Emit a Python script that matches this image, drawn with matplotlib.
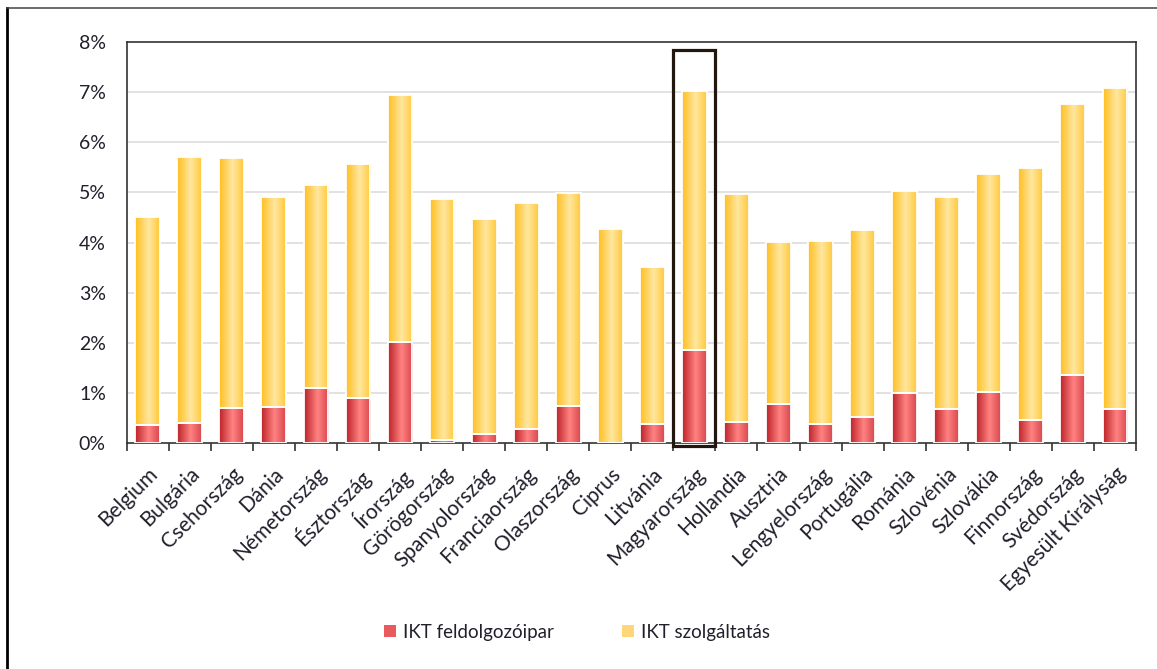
import numpy as np
import matplotlib
matplotlib.use("Agg")
import matplotlib.pyplot as plt
from matplotlib.colors import LinearSegmentedColormap
from matplotlib.patches import Rectangle
from matplotlib.lines import Line2D

plt.rcParams["font.family"] = ["Lato", "DejaVu Sans"]

# Országok és az IKT-szektor részesedése (%)
countries = [
    "Belgium", "Bulgária", "Csehország", "Dánia", "Németország", "Észtország",
    "Írország", "Görögország", "Spanyolország", "Franciaország", "Olaszország",
    "Ciprus", "Litvánia", "Magyarország", "Hollandia", "Ausztria",
    "Lengyelország", "Portugália", "Románia", "Szlovénia", "Szlovákia",
    "Finnország", "Svédország", "Egyesült Királyság",
]
manufacturing = [
    0.35, 0.39, 0.70, 0.72, 1.10, 0.90, 2.02, 0.06, 0.18, 0.27, 0.73, 0.01,
    0.38, 1.86, 0.41, 0.78, 0.38, 0.51, 0.99, 0.67, 1.02, 0.46, 1.36, 0.67,
]
totals = [
    4.50, 5.71, 5.68, 4.90, 5.14, 5.56, 6.94, 4.87, 4.47, 4.78, 4.98, 4.27,
    3.52, 7.03, 4.96, 4.01, 4.04, 4.24, 5.02, 4.90, 5.36, 5.48, 6.77, 7.09,
]
services = [t - m for t, m in zip(totals, manufacturing)]
highlight = "Magyarország"

text_color = "#20202c"
red_cmap = LinearSegmentedColormap.from_list(
    "red", [(0, "#bd2328"), (0.55, "#ff8282"), (1, "#d9474c")])
yellow_cmap = LinearSegmentedColormap.from_list(
    "yellow", [(0, "#ffbf1f"), (0.55, "#ffe7a0"), (1, "#ffc93c")])

fig = plt.figure(figsize=(11.57, 6.69), dpi=100)
ax = fig.add_axes([0.1095, 0.3378, 0.8723, 0.5994])

x = np.arange(len(countries))
width = 0.59
bars_m = ax.bar(x, manufacturing, width, facecolor="none", edgecolor="white",
                linewidth=1.3, zorder=4, label="IKT feldolgozóipar")
bars_s = ax.bar(x, services, width, bottom=manufacturing, facecolor="none",
                edgecolor="white", linewidth=1.3, zorder=4,
                label="IKT szolgáltatás")

# színátmenetes kitöltés az oszlopokra
grad = np.linspace(0, 1, 64).reshape(1, -1)
for bars, cmap in [(bars_m, red_cmap), (bars_s, yellow_cmap)]:
    for p in bars.patches:
        bx, by = p.get_x(), p.get_y()
        im = ax.imshow(grad, cmap=cmap, aspect="auto", zorder=3,
                       extent=[bx, bx + p.get_width(), by, by + p.get_height()])
        im.set_clip_path(p)

ax.set_xlim(-0.5, len(countries) - 0.5)
ax.set_ylim(0, 8)
ax.set_yticks(range(0, 9))
ax.set_yticklabels([f"{v}%" for v in range(0, 9)])
ax.tick_params(axis="y", length=0, pad=15, labelsize=14, labelcolor=text_color)
for v in range(1, 8):
    ax.axhline(v, color="#dadada", linewidth=1.1, zorder=1)

ax.set_xticks(x)
ax.set_xticklabels(countries, rotation=45, ha="right", rotation_mode="anchor")
ax.tick_params(axis="x", which="major", length=0, pad=15, labelsize=15,
               labelcolor=text_color)
ax.set_xticks(np.arange(-0.5, len(countries)), minor=True)
ax.tick_params(axis="x", which="minor", length=6, width=1.2, color="#333333")

for side in ["top", "right", "bottom", "left"]:
    ax.spines[side].set_color("#333333")
    ax.spines[side].set_linewidth(1.2)

# Magyarország kiemelése
hi = countries.index(highlight)
ax.add_patch(Rectangle((hi - 0.5, -0.06), 1, 7.91, fill=False,
                       edgecolor="#21170f", linewidth=2.3, zorder=6,
                       clip_on=False))

handles = [Rectangle((0, 0), 1, 1, facecolor="#e85a5e", edgecolor="none"),
           Rectangle((0, 0), 1, 1, facecolor="#ffd77a", edgecolor="none")]
fig.legend(handles, ["IKT feldolgozóipar", "IKT szolgáltatás"],
           loc="center", bbox_to_anchor=(0.4987, 0.055), ncol=2, frameon=False,
           fontsize=13.5, labelcolor=text_color, handlelength=0.65,
           handleheight=0.65, handletextpad=0.4, columnspacing=3.6)

# külső keret
fig.add_artist(Line2D([0.006, 0.006], [0, 0.988], color="black", linewidth=2))
fig.add_artist(Line2D([0.006, 1], [0.988, 0.988], color="#444444",
                      linewidth=1.1))

fig.savefig("out.png", dpi=100)
